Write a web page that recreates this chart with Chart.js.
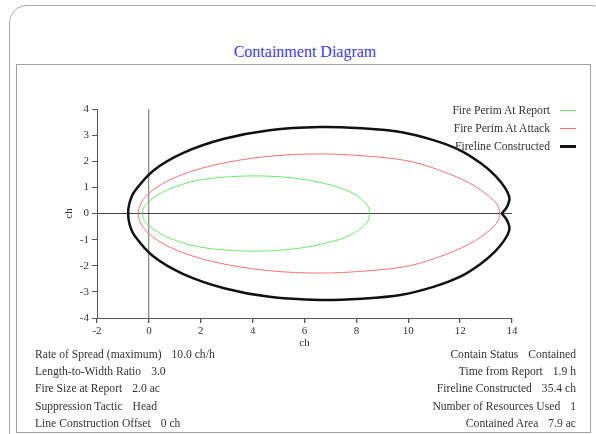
<!DOCTYPE html>
<html>
<head>
<meta charset="utf-8">
<script src="https://cdn.jsdelivr.net/npm/chart.js@4.4.1/dist/chart.umd.min.js"></script>
<style>
  html, body { margin: 0; padding: 0; background: #fff; }
  body { width: 596px; height: 434px; position: relative; overflow: hidden;
         font-family: 'Liberation Serif', 'DejaVu Serif', serif; color: #333; }
  #outer { position: absolute; left: 9px; top: 5px; width: 600px; height: 470px;
           border: 1.5px solid #aaa; border-radius: 18px; box-sizing: border-box; }
  #inner { position: absolute; left: 16px; top: 64px; width: 575px; height: 369px;
           border: 1.5px solid #a0a0a0; box-sizing: border-box; }
  #title { position: absolute; left: 155px; width: 300px; top: 42px; text-align: center;
           font-size: 16px; color: #3a3aff; line-height: 20px; }
  #chart { position: absolute; left: 0; top: 0; }
  #legend { position: absolute; right: 20px; top: 102px; font-size: 11.6px; }
  #legend .row { display: flex; justify-content: flex-end; align-items: center; height: 17.8px; }
  #legend .swatch { width: 16px; margin-left: 10px; }
  .stats { position: absolute; top: 346px; font-size: 11.6px; line-height: 17.2px; }
  #statsLeft { left: 35px; }
  #statsRight { right: 20px; text-align: right; }
  .stats .val { margin-left: 10px; }
</style>
</head>
<body>
<div id="outer"></div>
<div id="inner"></div>
<div id="title">Containment Diagram</div>
<canvas id="chart" width="596" height="434"></canvas>
<div id="legend"></div>
<div id="statsLeft" class="stats"></div>
<div id="statsRight" class="stats"></div>
<script>
// fire perimeter at report (green)
const reportX = [8.52, 8.45, 8.2, 7.7, 7.0, 6.0, 5.0, 4.0, 3.0, 2.0, 1.2, 0.5, 0.0, -0.17, -0.26,
                 -0.17, 0.0, 0.5, 1.2, 2.0, 3.0, 4.0, 5.0, 6.0, 7.0, 7.7, 8.2, 8.45, 8.52];
const reportY = [0, 0.27, 0.55, 0.86, 1.09, 1.30, 1.41, 1.44, 1.40, 1.29, 1.09, 0.80, 0.46, 0.27, 0,
                 -0.27, -0.46, -0.80, -1.09, -1.29, -1.40, -1.44, -1.41, -1.30, -1.09, -0.86, -0.55, -0.27, 0];

// fire perimeter at attack (red)
const attackX = [13.53, 13.47, 13.29, 12.6, 11.49, 10.05, 8.36, 6.56, 4.76, 3.08, 1.63, 0.52, -0.17, -0.41,
                 -0.17, 0.52, 1.63, 3.08, 4.76, 6.56, 8.36, 10.05, 11.49, 12.6, 13.29, 13.47, 13.53];
const attackY = [0, 0.26, 0.50, 1.03, 1.55, 2.00, 2.20, 2.28, 2.20, 1.97, 1.61, 1.14, 0.59, 0,
                 -0.59, -1.14, -1.61, -1.97, -2.20, -2.28, -2.20, -2.00, -1.55, -1.03, -0.50, -0.26, 0];

// fireline constructed (black)
const firelineX = [13.60, 13.76, 13.86, 13.90, 13.72, 13.35, 12.8, 12.0, 11.0, 9.7, 8.2, 6.6, 4.65, 2.9, 1.35, 0.18, -0.55, -0.74, -0.80,
                   -0.74, -0.55, 0.18, 1.35, 2.9, 4.65, 6.6, 8.2, 9.7, 11.0, 12.0, 12.8, 13.35, 13.72, 13.90, 13.86, 13.76, 13.60];
const firelineY = [0, 0.18, 0.38, 0.62, 1.00, 1.45, 1.92, 2.42, 2.80, 3.12, 3.26, 3.31, 3.19, 2.86, 2.33, 1.65, 0.85, 0.43, 0,
                   -0.43, -0.85, -1.65, -2.33, -2.86, -3.19, -3.31, -3.26, -3.12, -2.80, -2.42, -1.92, -1.45, -1.00, -0.62, -0.38, -0.18, 0];

const seriesNames = ["Fire Perim At Report", "Fire Perim At Attack", "Fireline Constructed"];
const seriesColors = ["#66ee66", "#ff7070", "#111111"];
const seriesWidths = [1, 1, 2.5];

const xTicks = [-2, 0, 2, 4, 6, 8, 10, 12, 14];
const yTicks = [-4, -3, -2, -1, 0, 1, 2, 3, 4];

const leftStats = [
    ["Rate of Spread (maximum)", "10.0 ch/h"],
    ["Length-to-Width Ratio", "3.0"],
    ["Fire Size at Report", "2.0 ac"],
    ["Suppression Tactic", "Head"],
    ["Line Construction Offset", "0 ch"]
];
const rightStats = [
    ["Contain Status", "Contained"],
    ["Time from Report", "1.9 h"],
    ["Fireline Constructed", "35.4 ch"],
    ["Number of Resources Used", "1"],
    ["Contained Area", "7.9 ac"]
];

function toPoints(xs, ys) {
    return xs.map((x, i) => ({ x: x, y: ys[i] }));
}

const serifFont = { family: "'Liberation Serif', 'DejaVu Serif', serif", size: 11 };

const curves = [[reportX, reportY], [attackX, attackY], [firelineX, firelineY]];

const ctx = document.getElementById("chart");
const myChart = new Chart(ctx, {
    type: "scatter",
    data: {
        datasets: curves.map((c, i) => ({
            label: seriesNames[i],
            data: toPoints(c[0], c[1]),
            showLine: true,
            borderColor: seriesColors[i],
            borderWidth: seriesWidths[i],
            pointRadius: 0,
            tension: 0.35,
            fill: false
        }))
    },
    options: {
        responsive: false,
        animation: false,
        events: [],
        layout: { padding: { left: 57, right: 84, top: 109, bottom: 80 } },
        plugins: { legend: { display: false }, tooltip: { enabled: false } },
        scales: {
            x: {
                type: "linear",
                min: -2,
                max: 14,
                afterBuildTicks: s => { s.ticks = xTicks.map(v => ({ value: v })); },
                afterFit: s => { s.height = 36; },
                ticks: { color: "#333", font: serifFont, padding: 2, maxRotation: 0 },
                grid: {
                    color: c => (c.tick && c.tick.value === 0 ? "#8c8c8c" : "rgba(0,0,0,0)"),
                    lineWidth: 1.3,
                    tickColor: "#555",
                    tickLength: 5
                },
                border: { color: "#555", width: 1 },
                title: { display: true, text: "ch", color: "#333", font: serifFont, padding: { top: 2, bottom: 4 } }
            },
            y: {
                type: "linear",
                min: -4,
                max: 4,
                afterBuildTicks: s => { s.ticks = yTicks.map(v => ({ value: v })); },
                afterFit: s => { s.width = 40; },
                ticks: { color: "#333", font: serifFont, padding: 3 },
                grid: {
                    color: c => (c.tick && c.tick.value === 0 ? "#444" : "rgba(0,0,0,0)"),
                    lineWidth: 1,
                    tickColor: "#555",
                    tickLength: 5
                },
                border: { color: "#555", width: 1 },
                title: { display: true, text: "ch", color: "#333", font: serifFont, padding: { top: 6, bottom: 4 } }
            }
        }
    }
});

// legend as real text
const legend = document.getElementById("legend");
seriesNames.forEach((name, i) => {
    const row = document.createElement("div");
    row.className = "row";
    const label = document.createElement("span");
    label.textContent = name;
    const swatch = document.createElement("span");
    swatch.className = "swatch";
    swatch.style.height = seriesWidths[i] + "px";
    swatch.style.background = seriesColors[i];
    row.appendChild(label);
    row.appendChild(swatch);
    legend.appendChild(row);
});

function fillStats(id, rows) {
    const box = document.getElementById(id);
    rows.forEach(r => {
        const line = document.createElement("div");
        const a = document.createElement("span");
        a.textContent = r[0];
        const b = document.createElement("span");
        b.className = "val";
        b.textContent = r[1];
        line.appendChild(a);
        line.appendChild(b);
        box.appendChild(line);
    });
}
fillStats("statsLeft", leftStats);
fillStats("statsRight", rightStats);
</script>
</body>
</html>
